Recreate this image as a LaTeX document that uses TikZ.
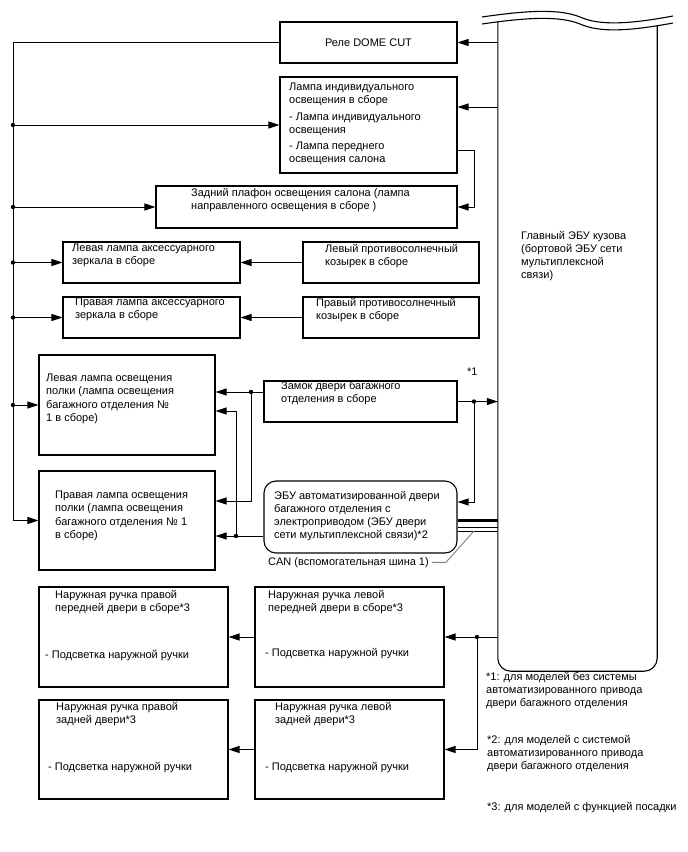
\documentclass[tikz,border=0pt]{standalone}
\usepackage{fontspec}
\setmainfont{Liberation Sans}
\usepackage{tikz}
\usetikzlibrary{arrows.meta,positioning,calc}

\begin{document}
\begin{tikzpicture}[x=1pt,y=-1pt,>={Triangle[length=11pt,width=7pt]},
  font=\fontsize{11}{13.2}\selectfont,
  box/.style={draw,line width=1.1pt,inner sep=0pt},
  txt/.style={anchor=north west,align=left,inner sep=0pt},
  wire/.style={line width=1pt}]
  \useasboundingbox (0,0) rectangle (688,852);

  \node[box,minimum width=177pt,minimum height=41pt] (relay) at (368.5,42.5) {Реле DOME CUT};
  \node[box,minimum width=177pt,minimum height=96pt] (lamp) at (368.5,125) {};
  \node[box,minimum width=301pt,minimum height=42pt] (reardome) at (306.5,207) {};
  \node[box,minimum width=177pt,minimum height=41pt] (lmirror) at (151.5,262.5) {};
  \node[box,minimum width=176pt,minimum height=41pt] (lvisor) at (391,262.5) {};
  \node[box,minimum width=177pt,minimum height=41pt] (rmirror) at (151.5,317.5) {};
  \node[box,minimum width=176pt,minimum height=41pt] (rvisor) at (391,317.5) {};
  \node[box,minimum width=176pt,minimum height=100pt] (lshelf) at (127,405) {};
  \node[box,minimum width=176pt,minimum height=99pt] (rshelf) at (127,520.5) {};
  \node[box,minimum width=193pt,minimum height=41pt] (lock) at (360.5,401.5) {};
  \node[box,rounded corners=12pt,minimum width=193pt,minimum height=72pt] (pecu) at (360.5,517) {};
  \node[box,minimum width=189pt,minimum height=100pt] (rfh) at (133.5,637) {};
  \node[box,minimum width=189pt,minimum height=100pt] (lfh) at (349.5,637) {};
  \node[box,minimum width=189pt,minimum height=99pt] (rrh) at (133.5,749.5) {};
  \node[box,minimum width=189pt,minimum height=99pt] (lrh) at (349.5,749.5) {};
  \node[inner sep=0pt,minimum width=159pt,minimum height=649pt] (ecu) at (577.5,346.5) {};

  \node[txt] (lamp-t) at (289,83) {Лампа индивидуального\\освещения в сборе\\[3pt]- Лампа индивидуального\\освещения\\[3pt]- Лампа переднего\\освещения салона};
  \node[txt] (reardome-t) at (191,188) {Задний плафон освещения салона (лампа\\направленного освещения в сборе )};
  \node[txt] (lmirror-t) at (72,244) {Левая лампа аксессуарного\\зеркала в сборе};
  \node[txt] (lvisor-t) at (325,244) {Левый противосолнечный\\козырек в сборе};
  \node[txt] (rmirror-t) at (75,298) {Правая лампа аксессуарного\\зеркала в сборе};
  \node[txt] (rvisor-t) at (316,298) {Правый противосолнечный\\козырек в сборе};
  \node[txt] (lshelf-t) at (46,374) {Левая лампа освещения\\полки (лампа освещения\\багажного отделения №\\1 в сборе)};
  \node[txt] (rshelf-t) at (55,491) {Правая лампа освещения\\полки (лампа освещения\\багажного отделения № 1\\в сборе)};
  \node[txt] (lock-t) at (281,381) {Замок двери багажного\\отделения в сборе};
  \node[txt] (pecu-t) at (274,491) {ЭБУ автоматизированной двери\\багажного отделения с\\электроприводом (ЭБУ двери\\сети мультиплексной связи)*2};
  \node[txt] (rfh-t) at (55,590) {Наружная ручка правой\\передней двери в сборе*3};
  \node[txt] (rfh-b) at (45,650) {- Подсветка наружной ручки};
  \node[txt] (lfh-t) at (268,590) {Наружная ручка левой\\передней двери в сборе*3};
  \node[txt] (lfh-b) at (265,648) {- Подсветка наружной ручки};
  \node[txt] (rrh-t) at (56,702) {Наружная ручка правой\\задней двери*3};
  \node[txt] (rrh-b) at (48,762) {- Подсветка наружной ручки};
  \node[txt] (lrh-t) at (275,702) {Наружная ручка левой\\задней двери*3};
  \node[txt] (lrh-b) at (265,762) {- Подсветка наружной ручки};
  \node[txt] (ecu-t) at (521,231) {Главный ЭБУ кузова\\(бортовой ЭБУ сети\\мультиплексной\\связи)};
  \node[txt] (star1) at (467,368) {*1};
  \node[txt] (can) at (268,557) {CAN (вспомогательная шина 1)};
  \node[txt] (note1) at (486,672) {*1: для моделей без системы\\автоматизированного привода\\двери багажного отделения};
  \node[txt] (note2) at (487,735) {*2: для моделей с системой\\автоматизированного привода\\двери багажного отделения};
  \node[txt] (note3) at (487,802) {*3: для моделей с функцией посадки};

  \draw[line width=1.1pt] (482,17) .. controls (530,10) and (560,9) .. (580,17) .. controls (598,25) and (625,25) .. (673,16);
  \draw[line width=1.1pt] (482,24) .. controls (530,17) and (560,16) .. (580,24) .. controls (598,32) and (625,32) .. (673,23);
  \draw[line width=1.1pt,rounded corners=13pt] (ecu.north west) -- (ecu.south west) -- (ecu.south east) -- ([yshift=-4pt]ecu.north east);

  \coordinate (bus) at (13,43);
  \draw[wire,->] (relay.west) -| (bus |- rshelf.west) -- (rshelf.west);
  \foreach \n in {lamp,reardome,lmirror,rmirror,lshelf} {
    \draw[wire,->] (bus |- \n.west) -- (\n.west);
    \fill (bus |- \n.west) circle (2.2pt);
  }
  \draw[wire,->] (ecu.west |- relay.east) -- (relay.east);
  \draw[wire,->] (ecu.west |- 0,107) -- (lamp.east |- 0,107);
  \draw[wire,->] (lamp.east |- 0,150) -- (474,150) |- (reardome.east);
  \draw[wire,->] (lvisor.west) -- (lmirror.east);
  \draw[wire,->] (rvisor.west) -- (rmirror.east);

  \draw[wire,->] (lock.west |- 0,392) -- (lshelf.east |- 0,392);
  \fill (251,392) circle (2.2pt);
  \draw[wire,->] (251,392) |- (rshelf.east |- 0,501);
  \draw[wire,->] (lock.east) -- (ecu.west |- lock.east);
  \fill (474,401.5) circle (2.2pt);
  \draw[wire,->] (474,401.5) |- (pecu.east |- 0,502);
  \draw[wire,->] (pecu.west |- 0,536) -- (rshelf.east |- 0,536);
  \fill (236,536) circle (2.2pt);
  \draw[wire,->] (236,536) |- (lshelf.east |- 0,411);

  \draw[line width=2.2pt] (pecu.east |- 0,520.5) -- (ecu.west |- 0,520.5);
  \draw[wire] (pecu.east |- 0,527) -- (ecu.west |- 0,527);
  \draw[wire] (pecu.east |- 0,531) -- (ecu.west |- 0,531);
  \draw[gray,line width=0.9pt] ([xshift=3pt]can.east) -- ++(14,0) -- (474,531);

  \draw[wire,->] (ecu.west |- lfh.east) -- (lfh.east);
  \fill (477,637) circle (2.2pt);
  \draw[wire,->] (477,637) |- (lrh.east);
  \draw[wire,->] (lfh.west) -- (rfh.east);
  \draw[wire,->] (lrh.west) -- (rrh.east);
\end{tikzpicture}
\end{document}
